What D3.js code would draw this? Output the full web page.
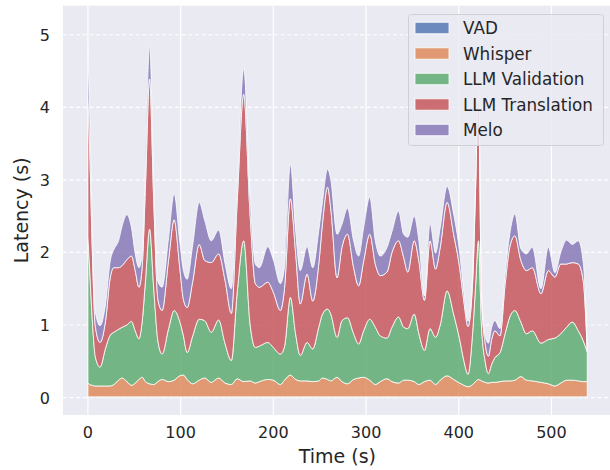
<!DOCTYPE html>
<html>
<head>
<meta charset="utf-8">
<script src="https://cdn.jsdelivr.net/npm/d3@7"></script>
<style>
  body { margin: 0; background: #fff; }
  svg { display: block; font-family: "DejaVu Sans", sans-serif; }
</style>
</head>
<body>
<svg width="610" height="470"></svg>
<script>
// time stamps (s) and per-stage latency (s)
const times = [0, 2, 4.5, 8, 13, 19, 24, 28, 33, 37, 42, 47, 51, 55, 58.5, 62, 66.5, 71, 75.5, 80, 87,
  93, 99, 103, 107, 113, 120, 126, 133, 141, 148, 154.7, 161, 168, 175, 180.6, 185, 194, 200, 207.6, 212,
  218.4, 224, 229, 236.4, 242.5, 249, 253, 258.5, 262, 268.7, 274, 280, 286.6, 292, 297.4, 304, 310, 315.4, 322.6, 328,
  335, 340.6, 345, 352, 357, 363, 369, 375, 380, 387.5, 394.5, 401, 405.5, 410, 415, 418, 421.3, 424.5, 428.5, 432,
  435.5, 439, 444.5, 450, 455, 460.6, 467, 473, 479.4, 488.7, 496.6, 503.8, 510, 516.4, 522.5, 529, 534.4, 538.6];

const vad = [0.01, 0.01, 0.01, 0.01, 0.01, 0.01, 0.01, 0.01, 0.01, 0.01, 0.01, 0.01, 0.01, 0.01, 0.01, 0.01, 0.01, 0.01, 0.01, 0.01, 0.01,
  0.01, 0.01, 0.01, 0.01, 0.01, 0.01, 0.01, 0.01, 0.01, 0.01, 0.01, 0.01, 0.01, 0.01, 0.01, 0.01, 0.01, 0.01, 0.01, 0.01,
  0.01, 0.01, 0.01, 0.01, 0.01, 0.01, 0.01, 0.01, 0.01, 0.01, 0.01, 0.01, 0.01, 0.01, 0.01, 0.01, 0.01, 0.01, 0.01, 0.01,
  0.01, 0.01, 0.01, 0.01, 0.01, 0.01, 0.01, 0.01, 0.01, 0.01, 0.01, 0.01, 0.01, 0.01, 0.01, 0.01, 0.01, 0.01, 0.01, 0.01,
  0.01, 0.01, 0.01, 0.01, 0.01, 0.01, 0.01, 0.01, 0.01, 0.01, 0.01, 0.01, 0.01, 0.01, 0.01, 0.01, 0.01, 0.01];

const whisper = [0.19, 0.17, 0.16, 0.15, 0.15, 0.15, 0.15, 0.17, 0.23, 0.26, 0.21, 0.16, 0.19, 0.24, 0.27, 0.21, 0.18, 0.17, 0.21, 0.24, 0.21,
  0.23, 0.29, 0.30, 0.24, 0.18, 0.23, 0.26, 0.20, 0.26, 0.19, 0.17, 0.25, 0.21, 0.22, 0.19, 0.21, 0.24, 0.23, 0.17, 0.23,
  0.30, 0.24, 0.22, 0.22, 0.21, 0.22, 0.26, 0.24, 0.22, 0.27, 0.21, 0.18, 0.24, 0.26, 0.27, 0.23, 0.17, 0.21, 0.25, 0.21,
  0.19, 0.23, 0.23, 0.21, 0.17, 0.21, 0.23, 0.17, 0.23, 0.29, 0.24, 0.19, 0.16, 0.14, 0.17, 0.21, 0.24, 0.22, 0.20, 0.19,
  0.20, 0.20, 0.21, 0.22, 0.22, 0.23, 0.28, 0.23, 0.22, 0.20, 0.18, 0.15, 0.19, 0.23, 0.23, 0.22, 0.21, 0.21];

const validation = [2.01, 1.55, 0.95, 0.40, 0.26, 0.52, 0.70, 0.72, 0.70, 0.70, 0.78, 0.88, 0.72, 0.56, 0.77, 1.38, 2.13, 1.32, 0.56, 0.35, 0.73,
  0.96, 0.75, 0.54, 0.37, 0.66, 0.84, 0.79, 0.69, 0.80, 0.54, 0.33, 1.19, 1.94, 0.77, 0.49, 0.49, 0.51, 0.45, 0.42, 0.46,
  1.07, 0.63, 0.35, 0.53, 0.45, 0.74, 0.88, 0.97, 0.92, 0.55, 0.84, 0.91, 0.63, 0.47, 0.64, 0.84, 0.79, 0.63, 0.56, 0.75,
  0.91, 0.73, 0.71, 0.93, 0.70, 0.43, 0.71, 0.65, 0.76, 1.17, 0.90, 0.60, 0.34, 0.17, 0.72, 1.28, 1.91, 0.77, 0.29, 0.13,
  0.25, 0.34, 0.40, 0.65, 0.88, 0.96, 0.75, 0.64, 0.69, 0.54, 0.61, 0.66, 0.68, 0.73, 0.80, 0.69, 0.56, 0.41];

const translation = [1.93, 1.65, 1.00, 0.42, 0.34, 0.38, 0.79, 0.89, 0.85, 0.85, 0.90, 0.90, 0.83, 0.71, 0.75, 1.30, 2.07, 1.20, 0.57, 0.60, 0.95,
  1.25, 0.75, 0.50, 0.62, 0.75, 1.03, 0.83, 0.96, 0.91, 0.87, 0.65, 1.25, 2.02, 1.50, 0.88, 0.81, 0.83, 0.76, 0.60, 0.80,
  1.36, 1.12, 0.71, 0.94, 0.66, 0.87, 1.25, 1.68, 1.45, 0.82, 1.01, 1.15, 0.91, 0.80, 0.96, 1.17, 0.87, 0.83, 0.91, 1.03,
  1.05, 0.96, 0.78, 1.01, 1.00, 0.69, 1.21, 0.94, 1.07, 1.22, 1.10, 0.99, 0.82, 0.66, 0.70, 1.30, 2.09, 0.40, 0.25, 0.24,
  0.34, 0.37, 0.23, 0.68, 0.96, 1.03, 0.85, 0.87, 0.87, 0.68, 0.95, 0.84, 0.96, 0.87, 0.82, 0.92, 0.82, 0.03];

const melo = [0.66, 0.50, 0.32, 0.20, 0.23, 0.23, 0.23, 0.25, 0.37, 0.55, 0.62, 0.39, 0.23, 0.27, 0.18, 0.30, 0.46, 0.25, 0.25, 0.32, 0.30,
  0.36, 0.35, 0.40, 0.39, 0.50, 0.58, 0.55, 0.30, 0.33, 0.23, 0.34, 0.20, 0.35, 0.25, 0.27, 0.27, 0.49, 0.45, 0.37, 0.30,
  0.48, 0.30, 0.46, 0.38, 0.46, 0.46, 0.30, 0.25, 0.40, 0.60, 0.32, 0.36, 0.37, 0.41, 0.46, 0.51, 0.32, 0.27, 0.34, 0.29,
  0.41, 0.32, 0.48, 0.34, 0.28, 0.06, 0.24, 0.22, 0.27, 0.22, 0.28, 0.21, 0.12, 0.07, 0.10, 0.10, 0.10, 0.10, 0.10, 0.18,
  0.17, 0.14, 0.10, 0.14, 0.18, 0.30, 0.16, 0.23, 0.28, 0.07, 0.32, 0.06, 0.16, 0.33, 0.25, 0.32, 0.25, 0.02];

const seriesNames = ["VAD", "Whisper", "LLM Validation", "LLM Translation", "Melo"];
const seriesColors = ["#4C72B0", "#DD8452", "#55A868", "#C44E52", "#8172B3"];
const xTicks = [0, 100, 200, 300, 400, 500];
const yTicks = [0, 1, 2, 3, 4, 5];

const columns = [vad, whisper, validation, translation, melo];
const rows = times.map((t, i) => {
    const r = {time: t};
    seriesNames.forEach((name, k) => r[name] = columns[k][i]);
    return r;
});

const svg = d3.select("svg");
const plot = {left: 63, top: 5.7, right: 611.7, bottom: 415};

const x = d3.scaleLinear().domain([-26.9, 565]).range([plot.left, plot.right]);
const y = d3.scaleLinear().domain([-0.24, 5.4]).range([plot.bottom, plot.top]);

svg.append("defs").append("clipPath").attr("id", "clip")
    .append("rect")
    .attr("x", plot.left).attr("y", plot.top)
    .attr("width", plot.right - plot.left).attr("height", plot.bottom - plot.top);

// background
svg.append("rect")
    .attr("x", plot.left).attr("y", plot.top)
    .attr("width", plot.right - plot.left).attr("height", plot.bottom - plot.top)
    .attr("fill", "#EAEAF2");

// grid
const grid = svg.append("g").attr("clip-path", "url(#clip)");
grid.selectAll(".vgrid").data(xTicks).enter().append("line")
    .attr("x1", d => x(d)).attr("x2", d => x(d))
    .attr("y1", plot.top).attr("y2", plot.bottom)
    .attr("stroke", "#fff").attr("stroke-width", 1.2);
grid.selectAll(".hgrid").data(yTicks).enter().append("line")
    .attr("x1", plot.left).attr("x2", plot.right)
    .attr("y1", d => y(d)).attr("y2", d => y(d))
    .attr("stroke", "#fff").attr("stroke-width", 1.2)
    .attr("stroke-dasharray", "4,2.6");

// stacked areas
const stack = d3.stack().keys(seriesNames);
const layers = stack(rows);

const area = d3.area()
    .x(d => x(d.data.time))
    .y0(d => y(d[0]))
    .y1(d => y(d[1]))
    .curve(d3.curveMonotoneX);

svg.append("g").attr("clip-path", "url(#clip)")
    .selectAll("path").data(layers).enter().append("path")
    .attr("d", area)
    .attr("fill", (d, i) => seriesColors[i])
    .attr("fill-opacity", 0.8)
    .attr("stroke", "#fff")
    .attr("stroke-opacity", 0.8)
    .attr("stroke-width", 1);

// tick labels
const textColor = "#262626";
svg.append("g").selectAll("text").data(xTicks).enter().append("text")
    .attr("x", d => x(d)).attr("y", 438)
    .attr("text-anchor", "middle")
    .attr("font-size", 16).attr("fill", textColor)
    .text(d => d);

svg.append("g").selectAll("text").data(yTicks).enter().append("text")
    .attr("x", 50).attr("y", d => y(d) + 6)
    .attr("text-anchor", "end")
    .attr("font-size", 16).attr("fill", textColor)
    .text(d => d);

// axis labels
svg.append("text")
    .attr("x", (plot.left + plot.right) / 2).attr("y", 463)
    .attr("text-anchor", "middle")
    .attr("font-size", 19).attr("fill", textColor)
    .text("Time (s)");

svg.append("text")
    .attr("transform", `translate(28,${(plot.top + plot.bottom) / 2}) rotate(-90)`)
    .attr("text-anchor", "middle")
    .attr("font-size", 19).attr("fill", textColor)
    .text("Latency (s)");

// legend
const legend = svg.append("g");
legend.append("rect")
    .attr("x", 408.5).attr("y", 14.5)
    .attr("width", 195).attr("height", 131)
    .attr("rx", 3)
    .attr("fill", "#EAEAF2").attr("fill-opacity", 0.8)
    .attr("stroke", "#cfcfd6").attr("stroke-width", 1);

const items = legend.selectAll(".item").data(seriesNames).enter().append("g")
    .attr("transform", (d, i) => `translate(0,${28 + i * 25.5})`);
items.append("rect")
    .attr("x", 415).attr("y", -5.7)
    .attr("width", 34).attr("height", 11.4)
    .attr("fill", (d, i) => seriesColors[i])
    .attr("fill-opacity", 0.8)
    .attr("stroke", "#fff").attr("stroke-opacity", 0.8).attr("stroke-width", 1);
items.append("text")
    .attr("x", 463).attr("y", 6)
    .attr("font-size", 16.8).attr("fill", textColor)
    .text(d => d);
</script>
</body>
</html>
